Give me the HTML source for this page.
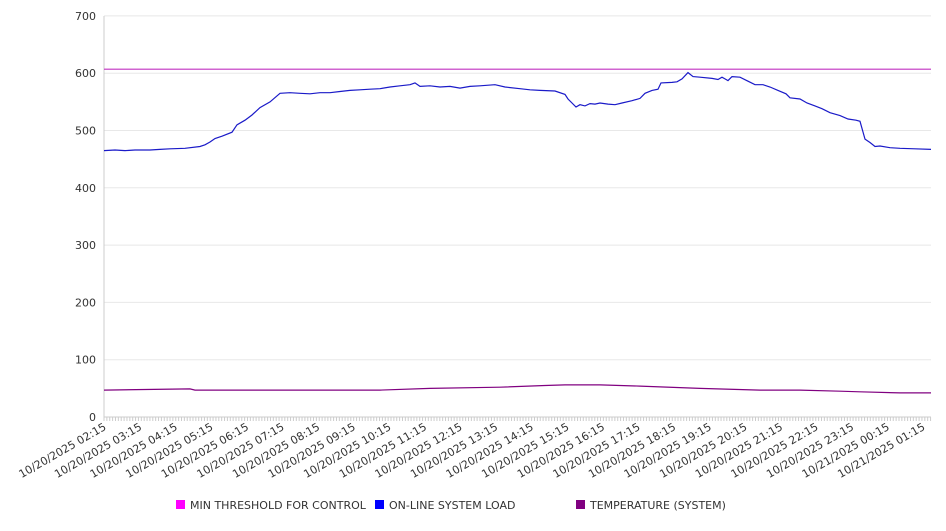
<!DOCTYPE html>
<html><head><meta charset="utf-8"><style>
html,body{margin:0;padding:0;background:#fff;}
svg text{font-family:"DejaVu Sans","Liberation Sans",sans-serif;font-size:11px;fill:#333;}
</style></head><body>
<svg id="c" width="946" height="526" xmlns="http://www.w3.org/2000/svg"></svg>
<script>
const s=document.getElementById('c');
const X0=104,X1=931,Y0=417,K=0.573;
const py=v=>Y0-v*K;
let h='';
for(let v=0;v<=700;v+=100){const y=py(v);
 if(v>0)h+=`<line x1="${X0}" x2="${X1}" y1="${y}" y2="${y}" stroke="#e8e8e8"/>`;
 h+=`<text x="96" y="${y+4}" text-anchor="end">${v}</text>`;}
h+=`<line x1="${X0}" x2="${X0}" y1="16" y2="${Y0}" stroke="#ccc"/>`;
h+=`<line x1="${X0}" x2="${X1}" y1="${Y0}" y2="${Y0}" stroke="#ccc"/>`;
for(let x=X0;x<=X1;x+=2.87)h+=`<line x1="${x}" x2="${x}" y1="${Y0}" y2="${Y0+4}" stroke="#ccc"/>`;
const hrs=['02:15','03:15','04:15','05:15','06:15','07:15','08:15','09:15','10:15','11:15','12:15','13:15','14:15','15:15','16:15','17:15','18:15','19:15','20:15','21:15','22:15','23:15','00:15','01:15'];
hrs.forEach((t,i)=>{const x=X0+3+i*35.6;const d=i>=22?'10/21/2025':'10/20/2025';
 h+=`<text transform="translate(${x},${Y0+12}) rotate(-30)" text-anchor="end">${d} ${t}</text>`;});
function path(pts,col){return `<polyline fill="none" stroke="${col}" stroke-width="1.2" points="${pts.map(p=>p[0]+','+py(p[1]).toFixed(1)).join(' ')}"/>`;}
const blue=[[104,465],[115,466],[125,465],[135,466],[150,466],[160,467],[170,468],[185,469],[200,472],[205,475],[210,480],[215,486],[222,490],[232,497],[237,510],[245,518],[252,527],[260,540],[270,550],[280,565],[290,566],[300,565],[310,564],[320,566],[330,566],[340,568],[350,570],[360,571],[370,572],[380,573],[390,576],[400,578],[410,580],[415,583],[420,577],[430,578],[440,576],[450,577],[460,574],[470,577],[480,578],[495,580],[505,576],[520,573],[530,571],[540,570],[555,569],[565,563],[568,555],[572,548],[576,541],[580,545],[585,543],[590,547],[595,546],[600,548],[608,546],[615,545],[622,548],[632,552],[640,556],[645,565],[652,570],[658,572],[661,583],[672,584],[677,585],[682,590],[688,601],[693,594],[700,593],[712,591],[718,589],[722,593],[725,590],[728,587],[732,594],[740,593],[748,586],[755,580],[763,580],[770,576],[778,570],[786,564],[790,557],[800,555],[807,548],[815,543],[822,538],[830,531],[840,526],[848,520],[856,518],[860,516],[865,485],[870,479],[875,472],[880,473],[890,470],[900,469],[915,468],[931,467]];
const temp=[[104,47],[190,49],[195,47],[380,47],[430,50],[500,52],[545,55],[565,56],[600,56],[640,54],[700,50],[760,47],[800,47],[840,45],[860,44],[900,42],[931,42]];
h+=`<line x1="${X0}" x2="${X1}" y1="${py(607)}" y2="${py(607)}" stroke="#c030c0" stroke-width="1.2"/>`;
h+=path(temp,'#800080');
h+=path(blue,'#1a1ac8');
const lg=[[176,'#ff00ff','MIN THRESHOLD FOR CONTROL'],[375,'#0000ff','ON-LINE SYSTEM LOAD'],[576,'#800080','TEMPERATURE (SYSTEM)']];
lg.forEach(([x,c,t])=>{h+=`<rect x="${x}" y="500" width="9" height="9" fill="${c}"/><text x="${x+14}" y="509">${t}</text>`;});
s.innerHTML=h;
</script>
</body></html>
